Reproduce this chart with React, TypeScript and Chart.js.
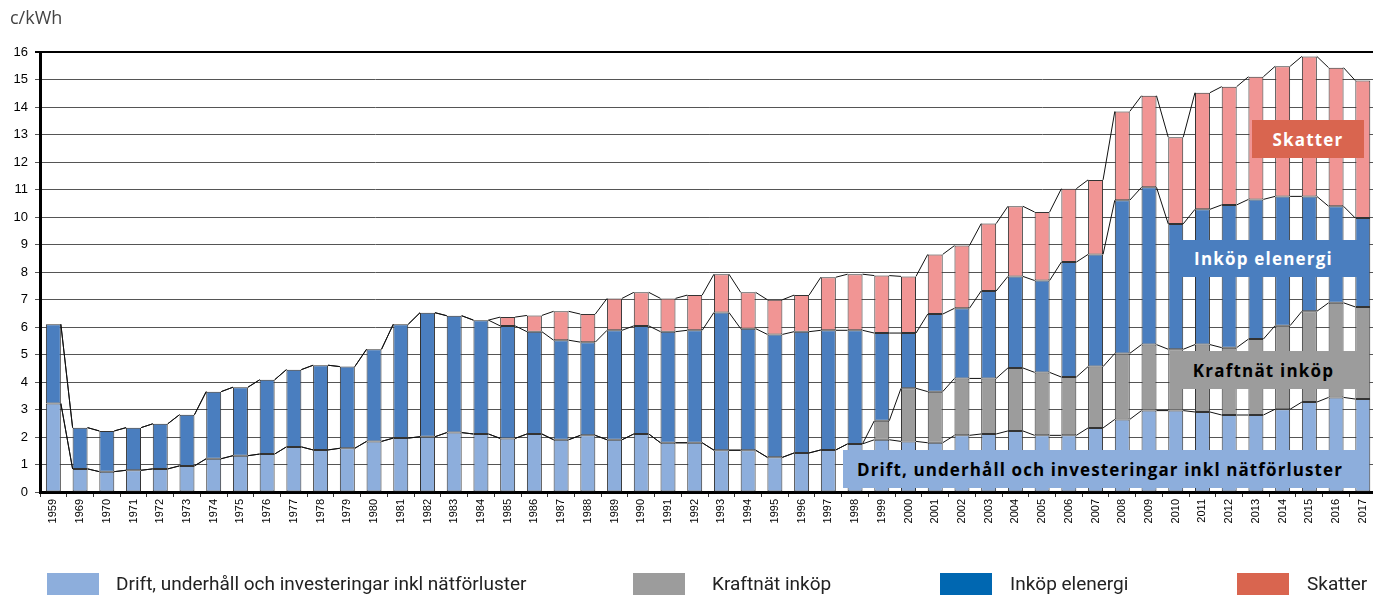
import React, { useEffect, useRef } from "react";
import { Chart, registerables } from "chart.js";

Chart.register(...registerables);

const years = [
  "1959", "1969", "1970", "1971", "1972", "1973", "1974", "1975", "1976", "1977",
  "1978", "1979", "1980", "1981", "1982", "1983", "1984", "1985", "1986", "1987",
  "1988", "1989", "1990", "1991", "1992", "1993", "1994", "1995", "1996", "1997",
  "1998", "1999", "2000", "2001", "2002", "2003", "2004", "2005", "2006", "2007",
  "2008", "2009", "2010", "2011", "2012", "2013", "2014", "2015", "2016", "2017",
];

const drift = [
  3.22, 0.84, 0.74, 0.79, 0.84, 0.95, 1.21, 1.32, 1.38, 1.64,
  1.53, 1.59, 1.84, 1.96, 2.01, 2.16, 2.11, 1.95, 2.11, 1.9,
  2.06, 1.9, 2.11, 1.79, 1.79, 1.52, 1.52, 1.26, 1.42, 1.53,
  1.75, 1.9, 1.84, 1.79, 2.06, 2.11, 2.22, 2.06, 2.06, 2.33,
  2.64, 2.96, 2.96, 2.91, 2.8, 2.8, 3.01, 3.27, 3.44, 3.38,
];

const kraftnat = [
  0, 0, 0, 0, 0, 0, 0, 0, 0, 0,
  0, 0, 0, 0, 0, 0, 0, 0, 0, 0,
  0, 0, 0, 0, 0, 0, 0, 0, 0, 0,
  0, 0.69, 1.93, 1.86, 2.07, 2.02, 2.29, 2.29, 2.12, 2.23,
  2.4, 2.4, 2.23, 2.45, 2.45, 2.76, 3.04, 3.3, 3.44, 3.35,
];

const inkop = [
  2.88, 1.5, 1.48, 1.55, 1.64, 1.86, 2.44, 2.49, 2.7, 2.81,
  3.08, 2.97, 3.35, 4.14, 4.51, 4.25, 4.14, 4.09, 3.72, 3.62,
  3.39, 3.98, 3.93, 4.04, 4.09, 5.01, 4.42, 4.47, 4.41, 4.35,
  4.13, 3.19, 2.01, 2.82, 2.55, 3.18, 3.33, 3.34, 4.18, 4.08,
  5.57, 5.72, 4.56, 4.92, 5.19, 5.08, 4.7, 4.18, 3.51, 3.23,
];

const skatter = [
  0, 0, 0, 0, 0, 0, 0, 0, 0, 0,
  0, 0, 0, 0, 0, 0, 0, 0.32, 0.59, 1.05,
  1.02, 1.16, 1.22, 1.21, 1.28, 1.39, 1.32, 1.26, 1.33, 1.93,
  2.04, 2.09, 2.06, 2.17, 2.28, 2.45, 2.55, 2.49, 2.67, 2.71,
  3.23, 3.33, 3.15, 4.24, 4.3, 4.46, 4.73, 5.09, 5.04, 5.0,
];

const seriesNames = [
  "Drift, underhåll och investeringar inkl nätförluster",
  "Kraftnät inköp",
  "Inköp elenergi",
  "Skatter",
];
const barColors = ["#8DAEDC", "#9C9C9C", "#4A7EBF", "#F19594"];
const legendColors = ["#8DAEDC", "#9C9C9C", "#0067B1", "#D9654F"];
const yUnit = "c/kWh";

const connectorPlugin = {
  id: "connectors",
  afterDatasetsDraw(chart: any) {
    const ctx = chart.ctx;
    ctx.save();
    ctx.strokeStyle = "#111";
    ctx.lineWidth = 1;
    chart.data.datasets.forEach((_: any, d: number) => {
      const meta = chart.getDatasetMeta(d);
      const els = meta.data;
      ctx.beginPath();
      for (let i = 0; i < els.length - 1; i++) {
        const a = els[i];
        const b = els[i + 1];
        ctx.moveTo(a.x + a.width / 2, a.y);
        ctx.lineTo(b.x - b.width / 2, b.y);
      }
      ctx.stroke();
    });
    ctx.restore();
  },
};

export default function App() {
  const ref = useRef<HTMLCanvasElement | null>(null);

  useEffect(() => {
    if (!ref.current) return;
    const data = [drift, kraftnat, inkop, skatter];
    const chart = new Chart(ref.current, {
      type: "bar",
      data: {
        labels: years,
        datasets: data.map((vals, i) => ({
          label: seriesNames[i],
          data: vals,
          backgroundColor: barColors[i],
          borderColor: "#333",
          borderWidth: 1,
          borderSkipped: false,
          barPercentage: 0.56,
          categoryPercentage: 1,
        })),
      },
      options: {
        animation: false,
        responsive: false,
        maintainAspectRatio: false,
        layout: { padding: { top: 52, left: 0, right: 0, bottom: 0 } },
        plugins: {
          legend: { display: false },
          tooltip: { enabled: false },
          title: { display: false },
        },
        scales: {
          x: {
            stacked: true,
            border: { display: true, color: "#000", width: 3 },
            grid: {
              display: true,
              drawOnChartArea: false,
              drawTicks: true,
              tickLength: 5,
              color: "#333",
              offset: true,
            },
            ticks: {
              minRotation: 90,
              maxRotation: 90,
              autoSkip: false,
              padding: 2,
              color: "#000",
              font: { family: "'Liberation Sans', Arial, sans-serif", size: 11 },
            },
            afterFit(scale: any) {
              scale.height = 105;
            },
          },
          y: {
            stacked: true,
            min: 0,
            max: 16,
            border: { display: true, color: "#000", width: 3 },
            grid: {
              color: (c: any) => (c.tick && c.tick.value === 16 ? "#000" : "#555"),
              lineWidth: (c: any) => (c.tick && c.tick.value === 16 ? 2 : 1),
              tickLength: 5,
              drawTicks: true,
            },
            ticks: {
              stepSize: 1,
              padding: 7,
              color: "#000",
              font: { family: "'Liberation Sans', Arial, sans-serif", size: 13 },
            },
            afterFit(scale: any) {
              scale.width = 40;
            },
          },
        },
      },
      plugins: [connectorPlugin],
    });
    return () => chart.destroy();
  }, []);

  const boxFont = "'Open Sans', 'Noto Sans', sans-serif";
  const labelBox = (
    text: string,
    left: number,
    top: number,
    width: number,
    height: number,
    bg: string,
    fg: string,
    spacing = 0
  ) => (
    <div
      style={{
        position: "absolute",
        left,
        top,
        width,
        height,
        background: bg,
        color: fg,
        fontFamily: boxFont,
        fontWeight: 700,
        fontSize: 17,
        letterSpacing: spacing,
        display: "flex",
        alignItems: "center",
        justifyContent: "center",
        whiteSpace: "nowrap",
      }}
    >
      {text}
    </div>
  );

  const legendX = [47, 633, 940, 1237];
  const legendTextX = [116, 712, 1010, 1307];

  return (
    <div
      style={{
        position: "fixed",
        left: 0,
        top: 0,
        width: 1373,
        height: 597,
        overflow: "hidden",
        background: "#fff",
      }}
    >
      <canvas
        ref={ref}
        width={1378}
        height={597}
        style={{ position: "absolute", left: 0, top: 0, width: 1378, height: 597 }}
      />
      <div
        style={{
          position: "absolute",
          left: 10,
          top: 5,
          fontFamily: "'Open Sans', sans-serif",
          fontSize: 18,
          color: "#444",
        }}
      >
        {yUnit}
      </div>
      {labelBox(seriesNames[3], 1252, 120, 112, 38, "#D9654F", "#fff", 1.2)}
      {labelBox(seriesNames[2], 1170, 240, 187, 37, "#4A7EBF", "#fff", 1.2)}
      {labelBox(seriesNames[1], 1170, 351, 187, 38, "#9C9C9C", "#000", 1.2)}
      {labelBox(seriesNames[0], 843, 450, 514, 38, "#8DAEDC", "#000", 1.1)}
      {seriesNames.map((n, i) => (
        <div key={n}>
          <div
            style={{
              position: "absolute",
              left: legendX[i],
              top: 573,
              width: 52,
              height: 22,
              background: legendColors[i],
            }}
          />
          <div
            style={{
              position: "absolute",
              left: legendTextX[i],
              top: 573,
              height: 22,
              lineHeight: "22px",
              fontFamily: "Roboto, sans-serif",
              fontSize: 19,
              color: "#222",
              whiteSpace: "nowrap",
            }}
          >
            {n}
          </div>
        </div>
      ))}
    </div>
  );
}
